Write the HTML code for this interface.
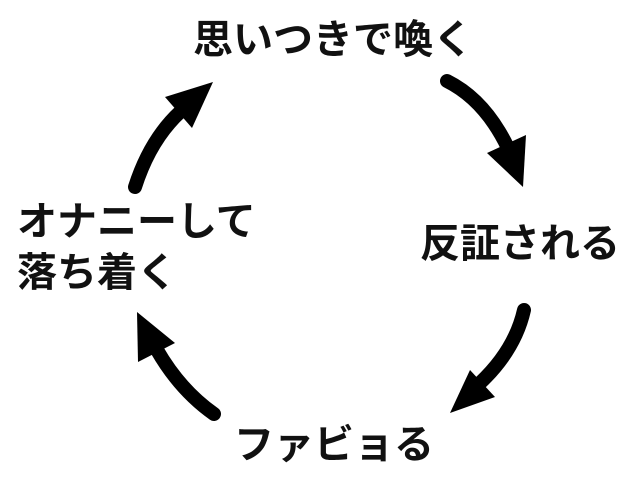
<!DOCTYPE html>
<html><head><meta charset="utf-8"><style>
body{margin:0;width:640px;height:492px;background:#fff;position:relative;overflow:hidden;font-family:"Liberation Sans","Noto Sans CJK JP",sans-serif;font-weight:bold;color:#111}
.t{position:absolute;font-size:40px;line-height:50px;white-space:nowrap}
svg{position:absolute;left:0;top:0}
</style></head><body>
<svg width="640" height="492">
<g fill="none" stroke="#000" stroke-width="14" stroke-linecap="round">
<path d="M447 81 Q485 100 508 148"/>
<path d="M135 187 Q150 140 180 112"/>
<path d="M524 310 Q515 350 480 383"/>
<path d="M214 414 Q180 390 157 350"/>
</g>
<g fill="#000">
<polygon points="487,153 526,135 523,187"/>
<polygon points="165,97 213,82 192,128"/>
<polygon points="470,370 495,397 450,413"/>
<polygon points="137,312 175,343 138,362"/>
</g>
</svg>
<div class="t" style="left:193px;top:15px">思いつきで喚く</div>
<div class="t" style="left:420px;top:219px">反証される</div>
<div class="t" style="left:17px;top:197px">オナニーして</div>
<div class="t" style="left:17px;top:248px">落ち着く</div>
<div class="t" style="left:234px;top:420px">ファビョる</div>
</body></html>
